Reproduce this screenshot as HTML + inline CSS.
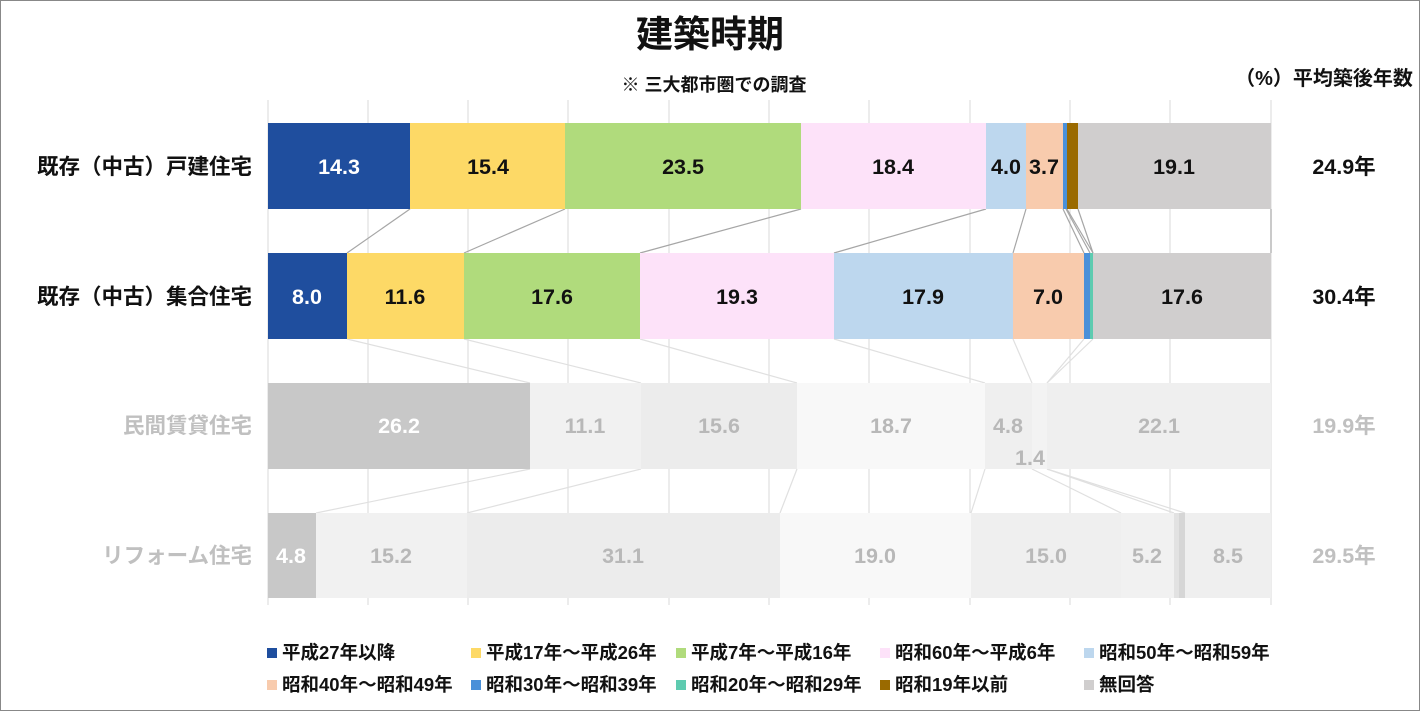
<!DOCTYPE html>
<html><head><meta charset="utf-8"><style>
body{margin:0;background:#fff}
svg{display:block;font-family:"Liberation Sans","Noto Sans CJK JP",sans-serif}
</style></head><body>
<svg width="1420" height="711" viewBox="0 0 1420 711">
<rect x="0.5" y="0.5" width="1419" height="710" fill="#fff" stroke="#888"/>
<text x="710" y="47" font-size="37" font-weight="bold" text-anchor="middle" fill="#111">建築時期</text>
<text x="714" y="91" font-size="18" font-weight="bold" text-anchor="middle" fill="#111">※ 三大都市圏での調査</text>
<text x="1324" y="85" font-size="20" font-weight="bold" text-anchor="middle" fill="#111">（%）平均築後年数</text>
<g stroke="#d9d9d9" stroke-width="1">
<line x1="268" y1="100" x2="268" y2="605"/><line x1="368" y1="100" x2="368" y2="605"/><line x1="468" y1="100" x2="468" y2="605"/><line x1="568" y1="100" x2="568" y2="605"/><line x1="669" y1="100" x2="669" y2="605"/><line x1="769" y1="100" x2="769" y2="605"/><line x1="869" y1="100" x2="869" y2="605"/><line x1="970" y1="100" x2="970" y2="605"/><line x1="1070" y1="100" x2="1070" y2="605"/><line x1="1170" y1="100" x2="1170" y2="605"/><line x1="1271" y1="100" x2="1271" y2="605"/>
</g>
<g stroke="#a6a6a6" stroke-width="1.2" fill="none">
<line x1="410" y1="209" x2="347" y2="253"/><line x1="565" y1="209" x2="464" y2="253"/><line x1="801" y1="209" x2="640" y2="253"/><line x1="986" y1="209" x2="834" y2="253"/><line x1="1026" y1="209" x2="1013" y2="253"/><line x1="1063" y1="209" x2="1084" y2="253"/><line x1="1066" y1="209" x2="1090" y2="253"/><line x1="1067" y1="209" x2="1093" y2="253"/><line x1="1078" y1="209" x2="1093" y2="253"/><line x1="1271" y1="209" x2="1271" y2="253"/>
</g>
<g stroke="#e0e0e0" stroke-width="1.2" fill="none">
<line x1="347" y1="339" x2="530" y2="383"/><line x1="464" y1="339" x2="641" y2="383"/><line x1="640" y1="339" x2="797" y2="383"/><line x1="834" y1="339" x2="985" y2="383"/><line x1="1013" y1="339" x2="1032" y2="383"/><line x1="1084" y1="339" x2="1047" y2="383"/><line x1="1093" y1="339" x2="1047" y2="383"/>
<line x1="530" y1="469" x2="316" y2="513"/><line x1="641" y1="469" x2="467" y2="513"/><line x1="797" y1="469" x2="780" y2="513"/><line x1="985" y1="469" x2="971" y2="513"/><line x1="1032" y1="469" x2="1121" y2="513"/><line x1="1047" y1="469" x2="1174" y2="513"/><line x1="1047" y1="469" x2="1185" y2="513"/>
</g>
<rect x="268" y="123" width="142" height="86" fill="#1f4e9e"/>
<rect x="410" y="123" width="155" height="86" fill="#fdd966"/>
<rect x="565" y="123" width="236" height="86" fill="#b0db7c"/>
<rect x="801" y="123" width="185" height="86" fill="#fde2f9"/>
<rect x="986" y="123" width="40" height="86" fill="#bdd7ee"/>
<rect x="1026" y="123" width="37" height="86" fill="#f8cbad"/>
<rect x="1063" y="123" width="4" height="86" fill="#4a90d9"/>
<rect x="1067" y="123" width="11" height="86" fill="#9a6a00"/>
<rect x="1078" y="123" width="193" height="86" fill="#d0cece"/>
<rect x="268" y="253" width="79" height="86" fill="#1f4e9e"/>
<rect x="347" y="253" width="117" height="86" fill="#fdd966"/>
<rect x="464" y="253" width="176" height="86" fill="#b0db7c"/>
<rect x="640" y="253" width="194" height="86" fill="#fde2f9"/>
<rect x="834" y="253" width="179" height="86" fill="#bdd7ee"/>
<rect x="1013" y="253" width="71" height="86" fill="#f8cbad"/>
<rect x="1084" y="253" width="6" height="86" fill="#4a90d9"/>
<rect x="1090" y="253" width="3" height="86" fill="#5ecbb0"/>
<rect x="1093" y="253" width="178" height="86" fill="#d0cece"/>
<rect x="268" y="383" width="262" height="86" fill="#c8c8c8"/>
<rect x="530" y="383" width="111" height="86" fill="#f1f1f1"/>
<rect x="641" y="383" width="156" height="86" fill="#ececec"/>
<rect x="797" y="383" width="188" height="86" fill="#f8f8f8"/>
<rect x="985" y="383" width="47" height="86" fill="#efefef"/>
<rect x="1032" y="383" width="15" height="86" fill="#f3f3f3"/>
<rect x="1047" y="383" width="224" height="86" fill="#efefef"/>
<rect x="268" y="513" width="48" height="85" fill="#c8c8c8"/>
<rect x="316" y="513" width="151" height="85" fill="#f1f1f1"/>
<rect x="467" y="513" width="313" height="85" fill="#ececec"/>
<rect x="780" y="513" width="191" height="85" fill="#f8f8f8"/>
<rect x="971" y="513" width="150" height="85" fill="#efefef"/>
<rect x="1121" y="513" width="53" height="85" fill="#f1f1f1"/>
<rect x="1174" y="513" width="5" height="85" fill="#e2e2e2"/>
<rect x="1179" y="513" width="6" height="85" fill="#d6d6d6"/>
<rect x="1185" y="513" width="86" height="85" fill="#efefef"/>
<g font-size="21.5" font-weight="bold" text-anchor="middle">
<text x="339" y="174" fill="#fff">14.3</text><text x="488" y="174" fill="#111">15.4</text><text x="683" y="174" fill="#111">23.5</text><text x="893" y="174" fill="#111">18.4</text><text x="1006" y="174" fill="#111">4.0</text><text x="1044" y="174" fill="#111">3.7</text><text x="1174" y="174" fill="#111">19.1</text>
<text x="307" y="304" fill="#fff">8.0</text><text x="405" y="304" fill="#111">11.6</text><text x="552" y="304" fill="#111">17.6</text><text x="737" y="304" fill="#111">19.3</text><text x="923" y="304" fill="#111">17.9</text><text x="1048" y="304" fill="#111">7.0</text><text x="1182" y="304" fill="#111">17.6</text>
<text x="399" y="433" fill="#fff">26.2</text><text x="585" y="433" fill="#b8b8b8">11.1</text><text x="719" y="433" fill="#b8b8b8">15.6</text><text x="891" y="433" fill="#b8b8b8">18.7</text><text x="1008" y="433" fill="#b8b8b8">4.8</text><text x="1030" y="465" fill="#b8b8b8">1.4</text><text x="1159" y="433" fill="#b8b8b8">22.1</text>
<text x="291" y="563" fill="#fff">4.8</text><text x="391" y="563" fill="#b8b8b8">15.2</text><text x="623" y="563" fill="#b8b8b8">31.1</text><text x="875" y="563" fill="#b8b8b8">19.0</text><text x="1046" y="563" fill="#b8b8b8">15.0</text><text x="1147" y="563" fill="#b8b8b8">5.2</text><text x="1228" y="563" fill="#b8b8b8">8.5</text>
</g>
<g font-size="21.5" font-weight="bold" text-anchor="end">
<text x="252" y="174" fill="#111">既存（中古）戸建住宅</text>
<text x="252" y="304" fill="#111">既存（中古）集合住宅</text>
<text x="252" y="433" fill="#c0c0c0">民間賃貸住宅</text>
<text x="252" y="563" fill="#c0c0c0">リフォーム住宅</text>
</g>
<g font-size="21.5" font-weight="bold" text-anchor="middle">
<text x="1344" y="174" fill="#111">24.9年</text><text x="1344" y="304" fill="#111">30.4年</text><text x="1344" y="433" fill="#c0c0c0">19.9年</text><text x="1344" y="563" fill="#c0c0c0">29.5年</text>
</g>
<g font-size="18.5" font-weight="bold" fill="#111">
<rect x="267" y="648" width="10" height="10" fill="#1f4e9e"/><text x="282" y="659">平成27年以降</text>
<rect x="471" y="648" width="10" height="10" fill="#fdd966"/><text x="486" y="659">平成17年～平成26年</text>
<rect x="676" y="648" width="10" height="10" fill="#b0db7c"/><text x="691" y="659">平成7年～平成16年</text>
<rect x="880" y="648" width="10" height="10" fill="#fde2f9"/><text x="895" y="659">昭和60年～平成6年</text>
<rect x="1084" y="648" width="10" height="10" fill="#bdd7ee"/><text x="1099" y="659">昭和50年～昭和59年</text>
<rect x="267" y="680" width="10" height="10" fill="#f8cbad"/><text x="282" y="691">昭和40年～昭和49年</text>
<rect x="471" y="680" width="10" height="10" fill="#4a90d9"/><text x="486" y="691">昭和30年～昭和39年</text>
<rect x="676" y="680" width="10" height="10" fill="#5ecbb0"/><text x="691" y="691">昭和20年～昭和29年</text>
<rect x="880" y="680" width="10" height="10" fill="#9a6a00"/><text x="895" y="691">昭和19年以前</text>
<rect x="1084" y="680" width="10" height="10" fill="#d0cece"/><text x="1099" y="691">無回答</text>
</g>
</svg>
</body></html>
